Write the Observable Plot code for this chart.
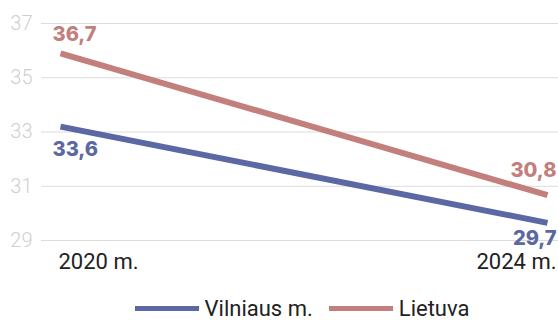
<!DOCTYPE html>
<html>
<head>
<meta charset="utf-8">
<script src="https://cdn.jsdelivr.net/npm/d3@7"></script>
<script src="https://cdn.jsdelivr.net/npm/@observablehq/plot@0.6"></script>
<style>
  html, body { margin: 0; padding: 0; background: #fff; }
  #chart svg { display: block; }
  .legend { display: flex; justify-content: center; align-items: center; height: 32px; padding-left: 46px; font-family: Roboto, sans-serif; font-size: 22px; color: #222; }
  .legend .item { display: flex; align-items: center; margin: 0 8px; }
  .legend .sw { width: 64px; height: 5px; margin-right: 6px; }
</style>
</head>
<body>
<div id="chart"></div>
<script>
const years = [2020, 2024];
const yearLabels = ["2020 m.", "2024 m."];
const seriesNames = ["Vilniaus m.", "Lietuva"];
const seriesColors = ["#5b68a3", "#c27f7c"];
const vilnius = [33.2, 29.65];
const lietuva = [35.9, 30.67];
const vilniusLabels = ["33,6", "29,7"];
const lietuvaLabels = ["36,7", "30,8"];
const yTicks = [29, 31, 33, 35, 37];

const rows = [];
years.forEach((yr, i) => {
  rows.push({series: seriesNames[0], year: yr, value: vilnius[i], label: vilniusLabels[i], i});
  rows.push({series: seriesNames[1], year: yr, value: lietuva[i], label: lietuvaLabels[i], i});
});
const color = {domain: seriesNames, range: seriesColors};
const lab = (s, i) => rows.filter(d => d.series === s && d.i === i);
const boldFont = {fontFamily: "Inter, sans-serif", fontWeight: 800, fontSize: 20};

const chart = Plot.plot({
  width: 558,
  height: 292,
  marginLeft: 60,
  marginRight: 11,
  marginTop: 23,
  marginBottom: 52,
  style: {fontFamily: "Roboto, sans-serif", background: "#fff"},
  x: {domain: [2020, 2024], axis: null},
  y: {domain: [29, 37], axis: null},
  color,
  marks: [
    Plot.ruleY(yTicks, {stroke: "#dcdcdc", strokeWidth: 1, insetLeft: -19, insetRight: -11}),
    Plot.text(yTicks, {y: d => d, frameAnchor: "left", dx: -28, textAnchor: "end", fill: "#cfcfcf", fontSize: 20, fontWeight: 300, fontFamily: "Roboto, sans-serif"}),
    Plot.line(rows, {x: "year", y: "value", z: "series", stroke: "series", strokeWidth: 6, strokeLinecap: "butt"}),
    Plot.text(lab(seriesNames[1], 0), {x: "year", y: "value", text: "label", fill: "series", textAnchor: "start", dx: -8, dy: -19, ...boldFont}),
    Plot.text(lab(seriesNames[0], 0), {x: "year", y: "value", text: "label", fill: "series", textAnchor: "start", dx: -8, dy: 23, ...boldFont}),
    Plot.text(lab(seriesNames[1], 1), {x: "year", y: "value", text: "label", fill: "series", textAnchor: "end", dx: 9, dy: -25, ...boldFont}),
    Plot.text(lab(seriesNames[0], 1), {x: "year", y: "value", text: "label", fill: "series", textAnchor: "end", dx: 9, dy: 16, ...boldFont}),
    Plot.text([0], {x: years[0], text: [yearLabels[0]], frameAnchor: "bottom", dy: 28, dx: -2, textAnchor: "start", fill: "#222", fontSize: 22}),
    Plot.text([0], {x: years[1], text: [yearLabels[1]], frameAnchor: "bottom", dy: 28, dx: 9, textAnchor: "end", fill: "#222", fontSize: 22})
  ]
});
document.getElementById("chart").appendChild(chart);

const legend = document.createElement("div");
legend.className = "legend";
seriesNames.forEach((n, i) => {
  const it = document.createElement("div");
  it.className = "item";
  const sw = document.createElement("span");
  sw.className = "sw";
  sw.style.background = seriesColors[i];
  const t = document.createElement("span");
  t.textContent = n;
  it.appendChild(sw);
  it.appendChild(t);
  legend.appendChild(it);
});
document.body.appendChild(legend);
</script>
</body>
</html>
